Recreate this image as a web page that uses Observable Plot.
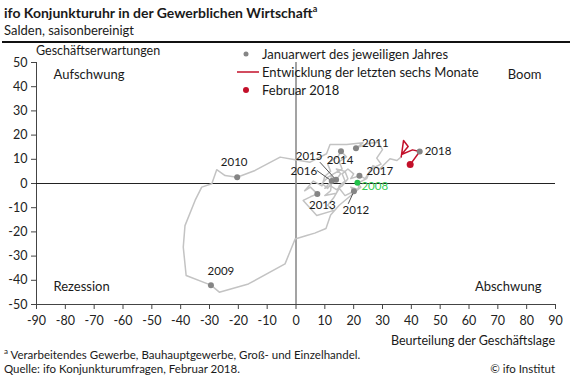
<!DOCTYPE html>
<html><head><meta charset="utf-8">
<script src="https://cdn.jsdelivr.net/npm/d3@7"></script>
<script src="https://cdn.jsdelivr.net/npm/@observablehq/plot@0.6"></script>
<style>
body{margin:0;width:572px;height:385px;position:relative;background:#fff;font-family:Lato,"Open Sans",sans-serif;color:#1a1a1a;overflow:hidden}
.abs{position:absolute;white-space:nowrap}
#chart{position:absolute;left:0;top:44px}
</style></head><body>
<div class="abs" style="left:4px;top:3px;font-size:14px;font-weight:bold">ifo Konjunkturuhr in der Gewerblichen Wirtschaft<sup style="font-size:9px">a</sup></div>
<div class="abs" style="left:4px;top:22px;font-size:13px">Salden, saisonbereinigt</div>
<div class="abs" style="left:2px;top:41px;width:568px;height:2px;background:#111"></div>
<div id="chart"></div>
<div class="abs" style="left:36px;top:43px;font-size:12.5px">Geschäftserwartungen</div>
<div class="abs" style="right:17px;top:333px;font-size:12.5px">Beurteilung der Geschäftslage</div>
<div class="abs" style="left:4px;top:346px;font-size:11.5px"><sup style="font-size:8px">a</sup> Verarbeitendes Gewerbe, Bauhauptgewerbe, Groß- und Einzelhandel.</div>
<div class="abs" style="left:4px;top:362px;font-size:11.5px">Quelle: ifo Konjunkturumfragen, Februar 2018.</div>
<div class="abs" style="right:17px;top:362px;font-size:11.5px">© ifo Institut</div>
<div id="legend"></div>
<script>
// ---- data ----
const xTicks = [-90,-80,-70,-60,-50,-40,-30,-20,-10,0,10,20,30,40,50,60,70,80,90];
const yTicks = [-50,-40,-30,-20,-10,0,10,20,30,40,50];

// monthly path (Beurteilung der Geschäftslage, Geschäftserwartungen), Jan 2008 .. Aug 2017
const pathLage = [21.3,22.5,20.5,18,15,12,10.4,6.5,3.7,-0.3,-3.8,-16.5,-26.6,
  -29.5,-38.1,-39.1,-38.5,-35,-32.7,-29.2,-27.5,-24.6,
  -20.4,-14.2,-5.5,-0.3,4.9,10.6,11.8,17.6,23.2,
  20.8,25,28.5,30,28,29.5,26,24.5,22,21.5,19,
  20.1,17,15,13,11,12.9,7.2,2.5,5,
  7.4,5,3,6,9,10,12,11,13,14.5,
  15.6,17.5,15,16,13,11,9,11,13,12,
  13.9,15.5,14,17,18,16,14,12,10,
  12.4,12,10,14,15,17,16,18,20,19,
  22,24,26.7,29,32.6,35,36.5];
const pathErw = [0.3,-1.5,-3.5,-6,-9,-13,-18.6,-20.5,-21.5,-22.9,-33.2,-41.5,-44.9,
  -42,-38,-26.3,-17.4,-7,-1.5,-0.1,5.7,3.3,
  2.6,5.4,10.9,9.8,8.8,12.3,16.1,16.1,16.8,
  14.6,16.5,17,14,10.5,8,6,2,0.5,-2.5,-1.5,
  -3.2,-5,-2,-6,-9,-11.2,-13.2,-7,-5.5,
  -4.3,-1.5,-3,1,-1,3,5,8,10,11,
  13.3,11,9,6,4,2.5,0,-2,1,3,
  1.5,4,6,5,2,-1,-2.5,-1,-2,
  1,-3,-5,-4,-1,1,4,6,4,2,
  3.2,2,7.4,6,10.2,9.5,11];

// last six months (Aug 2017 .. Feb 2018)
const recentLage = [36.5,37.3,38.9,36.6,40.4,42.9,39.6];
const recentErw  = [11,17.8,15.3,12.0,13.9,13.2,7.8];

// January values
const janYears = ["2008","2009","2010","2011","2012","2013","2014","2015","2016","2017","2018"];
const janLage  = [21.3,-29.5,-20.4,20.8,20.1,7.4,15.6,13.9,12.4,22,42.9];
const janErw   = [0.3,-42,2.6,14.6,-3.2,-4.3,13.3,1.5,1,3.2,13.2];

const quadrants = ["Aufschwung","Boom","Rezession","Abschwung"];
const legendItems = ["Januarwert des jeweiligen Jahres","Entwicklung der letzten sechs Monate","Februar 2018"];

// ---- build ----
const path = pathLage.map((x,i)=>({x, y:pathErw[i]}));
const recent = recentLage.map((x,i)=>({x, y:recentErw[i]}));
const jan = janYears.map((year,i)=>({year, x:janLage[i], y:janErw[i]}));
const janGray = jan.filter(d=>d.year!=="2008");
const jan2008 = jan.filter(d=>d.year==="2008");
const feb = [recent[recent.length-1]];
const byYear = Object.fromEntries(jan.map(d=>[d.year,d]));

// label placement (pixel offsets from the dot)
const labelPlace = {
  "2008":{dx:4,dy:4,anchor:"start",fill:"#33cc55"},
  "2009":{dx:10,dy:-14,anchor:"middle"},
  "2010":{dx:-3,dy:-15,anchor:"middle"},
  "2011":{dx:6,dy:-5,anchor:"start"},
  "2012":{dx:2,dy:19,anchor:"middle"},
  "2013":{dx:5,dy:11,anchor:"middle"},
  "2014":{dx:-1,dy:9,anchor:"middle"},
  "2015":{dx:-27,dy:-24,anchor:"middle"},
  "2016":{dx:-28,dy:-10,anchor:"middle"},
  "2017":{dx:7,dy:-4,anchor:"start"},
  "2018":{dx:5,dy:0,anchor:"start"}
};
const leaders = [
  {year:"2015", x2:8.3, y2:8.8},
  {year:"2016", x2:7.2, y2:5.4},
  {year:"2012", x2:18.1, y2:-8.4}
].map(d=>({...d, x1:byYear[d.year].x, y1:byYear[d.year].y}));

const labelMarks = janYears.map(yr=>{
  const p = labelPlace[yr];
  return Plot.text([byYear[yr]], {x:"x", y:"y", text:"year", dx:p.dx, dy:p.dy,
    textAnchor:p.anchor, lineAnchor:"middle", fill:p.fill||"#1a1a1a", fontSize:11.5});
});

const quadPos = [
  {frameAnchor:"top-left", dx:17, dy:12, textAnchor:"start"},
  {frameAnchor:"top-right", dx:-14, dy:12, textAnchor:"end"},
  {frameAnchor:"bottom-left", dx:17, dy:-18, textAnchor:"start"},
  {frameAnchor:"bottom-right", dx:-14, dy:-18, textAnchor:"end"}
];
const quadMarks = quadrants.map((q,i)=>Plot.text([q], {text:d=>d, ...quadPos[i], lineAnchor:"middle", fontSize:13, fill:"#1a1a1a"}));

const fmt = d => String(d);

const chart = Plot.plot({
  width:572, height:305,
  marginLeft:36, marginRight:17, marginTop:18, marginBottom:45,
  style:{fontFamily:"Lato, 'Open Sans', sans-serif", fontSize:"12px", color:"#222", background:"transparent"},
  x:{domain:[-90,90]},
  y:{domain:[-50,50]},
  marks:[
    Plot.axisX({ticks:xTicks, tickFormat:fmt, tickSize:5, tickPadding:7, label:null, fontSize:12.5, stroke:"#444"}),
    Plot.axisY({ticks:yTicks, tickFormat:fmt, tickSize:5, tickPadding:4, label:null, fontSize:12.5, stroke:"#444"}),
    Plot.ruleY([-50], {stroke:"#444"}),
    Plot.ruleX([-90], {stroke:"#444"}),
    Plot.ruleY([0], {stroke:"#222", strokeWidth:1}),
    Plot.ruleX([0], {stroke:"#8c8c8c", strokeWidth:1.6}),
    Plot.line(path, {x:"x", y:"y", stroke:"#c3c3c3", strokeWidth:1.5, curve:"linear"}),
    Plot.line(recent, {x:"x", y:"y", stroke:"#c3102a", strokeWidth:1.5}),
    Plot.link(leaders, {x1:"x1", y1:"y1", x2:"x2", y2:"y2", stroke:"#555", strokeWidth:1}),
    Plot.dot(janGray, {x:"x", y:"y", r:3, fill:"#858585"}),
    Plot.dot(jan2008, {x:"x", y:"y", r:3, fill:"#22c24a"}),
    Plot.dot(feb, {x:"x", y:"y", r:3.5, fill:"#c3102a"}),
    ...labelMarks,
    ...quadMarks
  ]
});
document.getElementById("chart").append(chart);

// legend (overlay)
const leg = document.getElementById("legend");
const rows = [54,72,90];
leg.innerHTML = `
<svg class="abs" style="left:0;top:0" width="572" height="110">
  <circle cx="246" cy="${rows[0]}" r="2.5" fill="#858585"/>
  <line x1="237" x2="259" y1="${rows[1]}" y2="${rows[1]}" stroke="#c3102a" stroke-width="1.5"/>
  <circle cx="246" cy="${rows[2]}" r="3" fill="#c3102a"/>
  ${legendItems.map((t,i)=>`<text x="262" y="${rows[i]}" dy="0.35em" font-size="13" fill="#1a1a1a" font-family="Lato, 'Open Sans', sans-serif">${t}</text>`).join("")}
</svg>`;
</script>
</body></html>
